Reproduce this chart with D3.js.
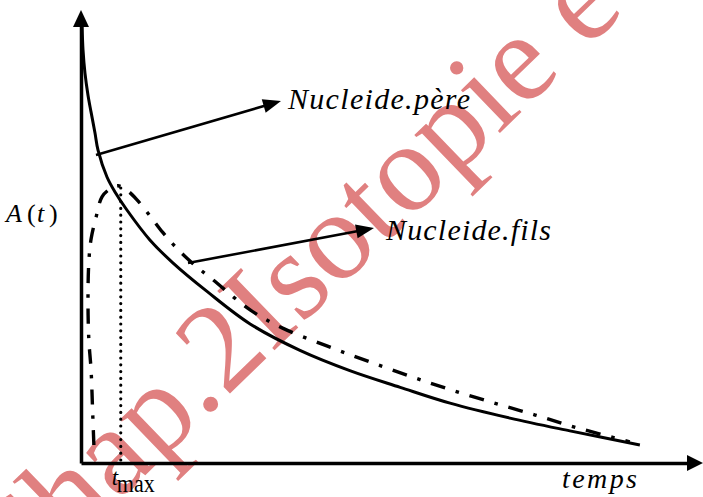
<!DOCTYPE html>
<html><head><meta charset="utf-8">
<script src="https://cdn.jsdelivr.net/npm/d3@7"></script>
<style>html,body{margin:0;padding:0;background:#fff;overflow:hidden}</style>
</head><body>
<svg id="c" width="703" height="497"></svg>
<script>
// ---- data (arbitrary units) ----
const parentT   = [0.2, 0.36, 0.71, 1.25, 1.79, 2.5, 3.04, 4.64, 6.07, 8.2, 12.3, 16.4, 22.5, 30.2, 39.1, 48.0, 57.0, 65.9, 76.6, 87.3, 99.8];
const parentA   = [99.1, 93.9, 88.6, 83.6, 79.8, 75.0, 71.1, 65.0, 61.6, 57.5, 50.7, 45.5, 39.0, 31.6, 25.6, 21.0, 17.2, 13.6, 10.2, 7.3, 4.1];
const daughterT = [2.3, 2.1, 1.8, 1.4, 1.25, 1.4, 1.8, 2.7, 3.75, 5.2, 6.6, 8.2, 10.0, 12.3, 14.6, 17.1, 20.0, 23.6, 30.2, 36.1, 43.9, 51.1, 58.8, 65.9, 73.6, 81.1, 88.6, 98.0];
const daughterA = [4.1, 10.9, 21.1, 28.0, 37.0, 45.7, 50.9, 55.9, 60.5, 62.3, 63.0, 62.0, 59.8, 56.2, 52.4, 48.8, 45.3, 41.6, 34.8, 30.6, 26.6, 23.2, 19.7, 16.7, 13.7, 10.9, 8.0, 4.8];
const tMax = 7.1;
const tMaxA = 62.5;
const seriesLabels = ["Nucleide.père", "Nucleide.fils"];
const axisLabels = ["A", "(", "t", ")", "temps"];
const tickLabels = ["t", "max"];
const watermark = "Chap.2Isotopie e";

const SERIF = '"Liberation Serif", "Times New Roman", serif';
const svg = d3.select("#c");
svg.append("rect").attr("width",703).attr("height",497).attr("fill","#fff");

const x = d3.scaleLinear().domain([0,100]).range([81,641]);
const y = d3.scaleLinear().domain([0,100]).range([463,23]);

// watermark (behind everything)
svg.append("text")
  .attr("transform","translate(12,604) rotate(-44)")
  .style("font-family",SERIF)
  .style("font-size","126px")
  .attr("fill","#e08080")
  .text(watermark);

// axes
const xAx = d3.scaleLinear().domain([0, x.invert(692)]).range([81,692]);
const yAx = d3.scaleLinear().domain([0, y.invert(24)]).range([463,24]);
const gx = svg.append("g").attr("transform","translate(0,463)")
  .call(d3.axisBottom(xAx).tickValues([]).tickSizeOuter(0));
const gy = svg.append("g").attr("transform","translate(81,0)")
  .call(d3.axisLeft(yAx).tickValues([]).tickSizeOuter(0));
[gx,gy].forEach(g=>g.select(".domain").attr("stroke","#000").attr("stroke-width",3.5));
svg.append("path").attr("d","M703,463 L687,455 L687,471 Z").attr("fill","#000");
svg.append("path").attr("d","M81,10 L73,27 L89,27 Z").attr("fill","#000");

const line = d3.line().x(d=>x(d[0])).y(d=>y(d[1])).curve(d3.curveCatmullRom.alpha(0.5));
const parent = parentT.map((t,i)=>[t,parentA[i]]);
const daughter = daughterT.map((t,i)=>[t,daughterA[i]]);

svg.append("line")
  .attr("x1",x(tMax)).attr("x2",x(tMax)).attr("y1",y(tMaxA)).attr("y2",y(0))
  .attr("stroke","#000").attr("stroke-width",3.2).attr("stroke-linecap","round")
  .attr("stroke-dasharray","0,6.8");

svg.append("path").datum(daughter).attr("d",line)
  .attr("fill","none").attr("stroke","#000").attr("stroke-width",3.4)
  .attr("stroke-dasharray","15,11,3.5,11");

svg.append("path").datum(parent).attr("d",line)
  .attr("fill","none").attr("stroke","#000").attr("stroke-width",3);

function arrow(x1,y1,x2,y2){
  const a = Math.atan2(y2-y1,x2-x1), L=18, W=7;
  const bx = x2-L*Math.cos(a), by = y2-L*Math.sin(a);
  svg.append("line").attr("x1",x1).attr("y1",y1).attr("x2",bx+2*Math.cos(a)).attr("y2",by+2*Math.sin(a))
    .attr("stroke","#000").attr("stroke-width",2.6);
  svg.append("path").attr("d",`M${x2},${y2} L${bx+W*Math.sin(a)},${by-W*Math.cos(a)} L${bx-W*Math.sin(a)},${by+W*Math.cos(a)} Z`).attr("fill","#000");
}
arrow(96,155,281,101);
arrow(188,263,374,228);

function label(txt,xx,yy,size,len,italic,adj){
  const t = svg.append("text").attr("x",xx).attr("y",yy)
    .style("font-family",SERIF).style("font-size",size+"px")
    .style("font-style",italic?"italic":"normal").attr("fill","#000").text(txt);
  if(len) t.attr("textLength",len).attr("lengthAdjust",adj||"spacing");
  return t;
}
label(seriesLabels[0],288,109,30,182,true);
label(seriesLabels[1],386,240,30,165,true);
label(axisLabels[0],6,222,26,null,true);
label(axisLabels[1],27,222,26,null,false);
label(axisLabels[2],37,222,26,null,true);
label(axisLabels[3],49,222,26,null,false);
label(axisLabels[4],562,488,28,75,true);
label(tickLabels[0],x(tMax)-9,485,23,null,true);
label(tickLabels[1],x(tMax)-4,492,25,38,false,"spacingAndGlyphs");
</script>
</body></html>
